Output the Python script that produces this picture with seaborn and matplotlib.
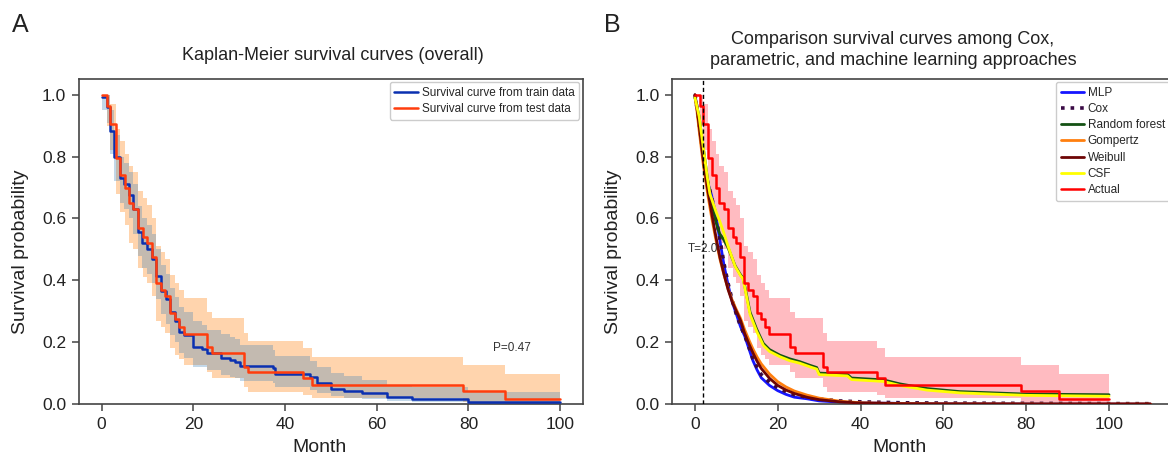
import numpy as np
import pandas as pd
import matplotlib
matplotlib.use("Agg")
import matplotlib.pyplot as plt
import seaborn as sns

# ---------------- data: panel A (Kaplan-Meier) ----------------
train_t = [0, 1.1, 1.9, 2.8, 4.1, 4.9, 5.9, 6.9, 8.0, 8.9, 10.0, 10.9, 11.9, 13.0, 14.1, 14.9, 16.0,
           16.9, 17.9, 19.9, 22.0, 23.0, 26.1, 28.1, 29.2, 30.1, 37.4, 37.9, 45.4, 47.0, 50.0, 52.8,
           56.9, 62.2, 67.8, 80.0, 100]
train_s = [0.993, 0.96, 0.883, 0.80, 0.73, 0.71, 0.676, 0.632, 0.557, 0.52, 0.50, 0.47, 0.415, 0.365,
           0.338, 0.296, 0.269, 0.234, 0.223, 0.185, 0.177, 0.166, 0.150, 0.142, 0.137, 0.124, 0.115,
           0.096, 0.088, 0.069, 0.05, 0.042, 0.034, 0.024, 0.016, 0.008, 0.008]
train_up = [1.0, 1.0, 0.95, 0.87, 0.80, 0.78, 0.75, 0.71, 0.64, 0.60, 0.58, 0.55, 0.50, 0.45, 0.42,
            0.374, 0.345, 0.315, 0.299, 0.27, 0.255, 0.239, 0.225, 0.216, 0.21, 0.19, 0.175, 0.155,
            0.14, 0.121, 0.10, 0.09, 0.078, 0.062, 0.056, 0.04, 0.04]
train_lo = [0.95, 0.91, 0.81, 0.72, 0.65, 0.63, 0.60, 0.55, 0.48, 0.44, 0.42, 0.39, 0.34, 0.29, 0.26,
            0.223, 0.20, 0.165, 0.150, 0.121, 0.12, 0.11, 0.095, 0.088, 0.083, 0.075, 0.067, 0.055,
            0.045, 0.035, 0.025, 0.02, 0.015, 0.01, 0.006, 0.001, 0.001]

test_t = [0, 1.1, 1.9, 3.1, 4.0, 5.0, 5.9, 6.9, 8.0, 9.1, 10.0, 10.9, 11.9, 12.9, 13.9, 14.9, 16.0,
          16.9, 17.9, 23.0, 24.1, 31.0, 32.0, 43.9, 45.9, 78.8, 87.9, 100]
test_s = [1.0, 0.965, 0.905, 0.795, 0.74, 0.70, 0.65, 0.63, 0.57, 0.54, 0.52, 0.475, 0.39, 0.37, 0.348,
          0.295, 0.275, 0.25, 0.226, 0.185, 0.166, 0.121, 0.104, 0.085, 0.061, 0.041, 0.017, 0.017]
test_up = [1.0, 1.0, 0.97, 0.89, 0.85, 0.81, 0.77, 0.75, 0.69, 0.665, 0.645, 0.60, 0.51, 0.49, 0.47,
           0.417, 0.39, 0.369, 0.342, 0.299, 0.277, 0.229, 0.205, 0.180, 0.153, 0.126, 0.097, 0.097]
test_lo = [1.0, 0.90, 0.82, 0.68, 0.62, 0.58, 0.52, 0.50, 0.44, 0.41, 0.39, 0.35, 0.27, 0.25, 0.23,
           0.18, 0.16, 0.145, 0.126, 0.105, 0.083, 0.056, 0.040, 0.029, 0.018, 0.006, 0.001, 0.001]

p_text = "P=0.47"
legend_a = ["Survival curve from train data", "Survival curve from test data"]

# ---------------- data: panel B (model comparison) ----------------
param_t = [0, 0.5, 1, 1.5, 2, 3, 4, 5, 6, 7, 8, 9, 10, 11, 12, 13, 14, 15, 16, 18, 20, 22, 24, 27,
           30, 35, 40, 50, 60, 80, 110]
mlp_s = [1.0, 0.955, 0.905, 0.855, 0.80, 0.72, 0.675, 0.615, 0.53, 0.45, 0.385, 0.33, 0.29, 0.25,
         0.22, 0.18, 0.14, 0.11, 0.085, 0.06, 0.043, 0.031, 0.022, 0.017, 0.01, 0.006, 0.004, 0.002,
         0.001, 0.0005, 0.0]
cox_s = [1.0, 0.955, 0.905, 0.855, 0.80, 0.72, 0.67, 0.61, 0.535, 0.455, 0.39, 0.335, 0.29, 0.252,
         0.222, 0.185, 0.145, 0.118, 0.095, 0.07, 0.052, 0.04, 0.03, 0.022, 0.016, 0.01, 0.007, 0.004,
         0.003, 0.002, 0.001]
weibull_s = [1.0, 0.955, 0.90, 0.845, 0.79, 0.70, 0.62, 0.545, 0.476, 0.42, 0.37, 0.33, 0.30, 0.27,
             0.228, 0.195, 0.165, 0.138, 0.115, 0.083, 0.06, 0.045, 0.034, 0.022, 0.014, 0.007, 0.003,
             0.001, 0.0003, 0.0, 0.0]
gompertz_s = [1.0, 0.945, 0.885, 0.83, 0.775, 0.685, 0.605, 0.535, 0.47, 0.418, 0.372, 0.335, 0.305,
              0.277, 0.24, 0.208, 0.178, 0.152, 0.13, 0.097, 0.072, 0.055, 0.042, 0.029, 0.019, 0.009,
              0.004, 0.0015, 0.0005, 0.0001, 0.0]

ml_t = [0, 1, 2, 3, 3.6, 5, 6, 6.8, 8, 9.7, 11, 11.6, 12.2, 13.3, 14.9, 16.5, 18, 20.5, 22.9, 25.3,
        27.8, 29.4, 30.0, 36.8, 37.8, 45.5, 49.5, 56, 64, 80, 100]
csf_s = [0.99, 0.93, 0.83, 0.73, 0.68, 0.625, 0.59, 0.56, 0.51, 0.445, 0.415, 0.405, 0.365, 0.29,
         0.235, 0.19, 0.17, 0.153, 0.14, 0.132, 0.12, 0.113, 0.095, 0.091, 0.079, 0.073, 0.06, 0.045,
         0.036, 0.028, 0.025]
rf_s = [0.99, 0.93, 0.83, 0.73, 0.68, 0.59, 0.55, 0.535, 0.505, 0.447, 0.418, 0.408, 0.37, 0.297,
        0.242, 0.196, 0.176, 0.158, 0.146, 0.137, 0.125, 0.118, 0.1, 0.096, 0.084, 0.078, 0.065, 0.05,
        0.04, 0.032, 0.03]

t_cut = 2.0
legend_b = ["MLP", "Cox", "Random forest", "Gompertz", "Weibull", "CSF", "Actual"]

# ---------------- style ----------------
sns.set_theme(style="ticks")
plt.rcParams["font.family"] = ["Liberation Sans", "DejaVu Sans"]
plt.rcParams["axes.edgecolor"] = "#444444"
plt.rcParams["axes.linewidth"] = 1.2
plt.rcParams["xtick.color"] = "#444444"
plt.rcParams["ytick.color"] = "#444444"
plt.rcParams["xtick.labelcolor"] = "#222222"
plt.rcParams["ytick.labelcolor"] = "#222222"

W, H = 1168, 461
fig = plt.figure(figsize=(W / 100, H / 100), dpi=100)

def fx(px):
    return px / W

def fy(py):
    return 1 - py / H

axA = fig.add_axes([fx(78.7), fy(404), fx(583) - fx(78.7), fy(79.3) - fy(404)])
axB = fig.add_axes([fx(672.2), fy(404), fx(1173.2) - fx(672.2), fy(79.3) - fy(404)])

# ---------------- panel A ----------------
axA.fill_between(test_t, test_lo, test_up, step="post", color="#ffa04a", alpha=0.45, lw=0, zorder=1)
axA.fill_between(train_t, train_lo, train_up, step="post", color="#3b7fb8", alpha=0.3, lw=0, zorder=2)
dfa_tr = pd.DataFrame({"t": train_t, "s": train_s})
dfa_te = pd.DataFrame({"t": test_t, "s": test_s})
sns.lineplot(data=dfa_tr, x="t", y="s", ax=axA, drawstyle="steps-post", estimator=None, sort=False,
             color="#0a30b0", lw=1.8, label=legend_a[0], zorder=3)
sns.lineplot(data=dfa_te, x="t", y="s", ax=axA, drawstyle="steps-post", estimator=None, sort=False,
             color="#ff3d0d", lw=1.8, label=legend_a[1], zorder=4)
axA.text(89.6, 0.18, p_text, ha="center", va="center", fontsize=8.5, color="#333333")

# ---------------- panel B ----------------
axB.fill_between(test_t, test_lo, test_up, step="post", color="#ff5566", alpha=0.4, lw=0, zorder=1)
series = [
    (param_t, mlp_s, legend_b[0], "#1515ff", "-", 2.0, 2),
    (param_t, cox_s, legend_b[1], "#3a0a45", ":", 2.6, 3),
    (ml_t, rf_s, legend_b[2], "#145214", "-", 2.0, 4),
    (param_t, gompertz_s, legend_b[3], "#ff7f0e", "-", 2.0, 5),
    (param_t, weibull_s, legend_b[4], "#6e0505", "-", 2.0, 6),
    (ml_t, csf_s, legend_b[5], "#ffff00", "-", 2.0, 7),
]
for t, s, lab, col, ls, lw, z in series:
    sns.lineplot(x=t, y=s, ax=axB, estimator=None, sort=False, color=col, linestyle=ls, lw=lw,
                 label=lab, zorder=z)
sns.lineplot(data=dfa_te, x="t", y="s", ax=axB, drawstyle="steps-post", estimator=None, sort=False,
             color="#ff0000", lw=1.8, label=legend_b[6], zorder=8)
axB.axvline(t_cut, color="black", ls=(0, (3, 2)), lw=1.0, zorder=9)
axB.text(t_cut, 0.5, "T=2.0", ha="center", va="center", fontsize=8.5, color="#333333", zorder=10)

# ---------------- axes cosmetics ----------------
for ax, xl in ((axA, (-5, 105)), (axB, (-5.5, 115.5))):
    ax.set_xlim(*xl)
    ax.set_ylim(0, 1.05)
    ax.set_xticks([0, 20, 40, 60, 80, 100])
    ax.set_yticks([0.0, 0.2, 0.4, 0.6, 0.8, 1.0])
    ax.set_yticklabels(["0.0", "0.2", "0.4", "0.6", "0.8", "1.0"])
    ax.tick_params(axis="both", labelsize=12.5, length=5, width=1.1, pad=4)
    ax.set_xlabel("Month", fontsize=14, color="#222222")
    ax.set_ylabel("Survival probability", fontsize=14, color="#222222")
    for side in ("top", "right"):
        ax.spines[side].set_visible(True)

axA.xaxis.set_label_coords((320 - 78.7) / 504.3, -0.108)
axA.yaxis.set_label_coords(-0.098, 0.47)
axB.xaxis.set_label_coords((899 - 672.2) / 501, -0.108)
axB.yaxis.set_label_coords(-0.10, 0.47)

legA = axA.legend(loc="upper right", bbox_to_anchor=(fx(579), fy(82)), bbox_transform=fig.transFigure,
                  fontsize=8.5, frameon=True, framealpha=1, edgecolor="#cccccc", handlelength=2.0,
                  handletextpad=0.3, labelspacing=0.35, borderpad=0.4, borderaxespad=0)
legB = axB.legend(loc="upper left", bbox_to_anchor=(fx(1056), fy(82)), bbox_transform=fig.transFigure,
                  fontsize=8.5, frameon=True, framealpha=1, edgecolor="#cccccc", handlelength=2.0,
                  handletextpad=0.3, labelspacing=0.36, borderpad=0.4, borderaxespad=0)

# ---------------- titles and panel letters ----------------
fig.text(fx(333), fy(55), "Kaplan-Meier survival curves (overall)", ha="center", va="center",
         fontsize=13, color="#222222")
fig.text(fx(893), fy(50), "Comparison survival curves among Cox,\nparametric, and machine learning approaches",
         ha="center", va="center", fontsize=13, color="#222222", linespacing=1.3)
fig.text(fx(20), fy(25), "A", ha="center", va="center", fontsize=18, color="#222222")
fig.text(fx(612), fy(25), "B", ha="center", va="center", fontsize=18, color="#222222")

fig.savefig("out.png", dpi=100)
